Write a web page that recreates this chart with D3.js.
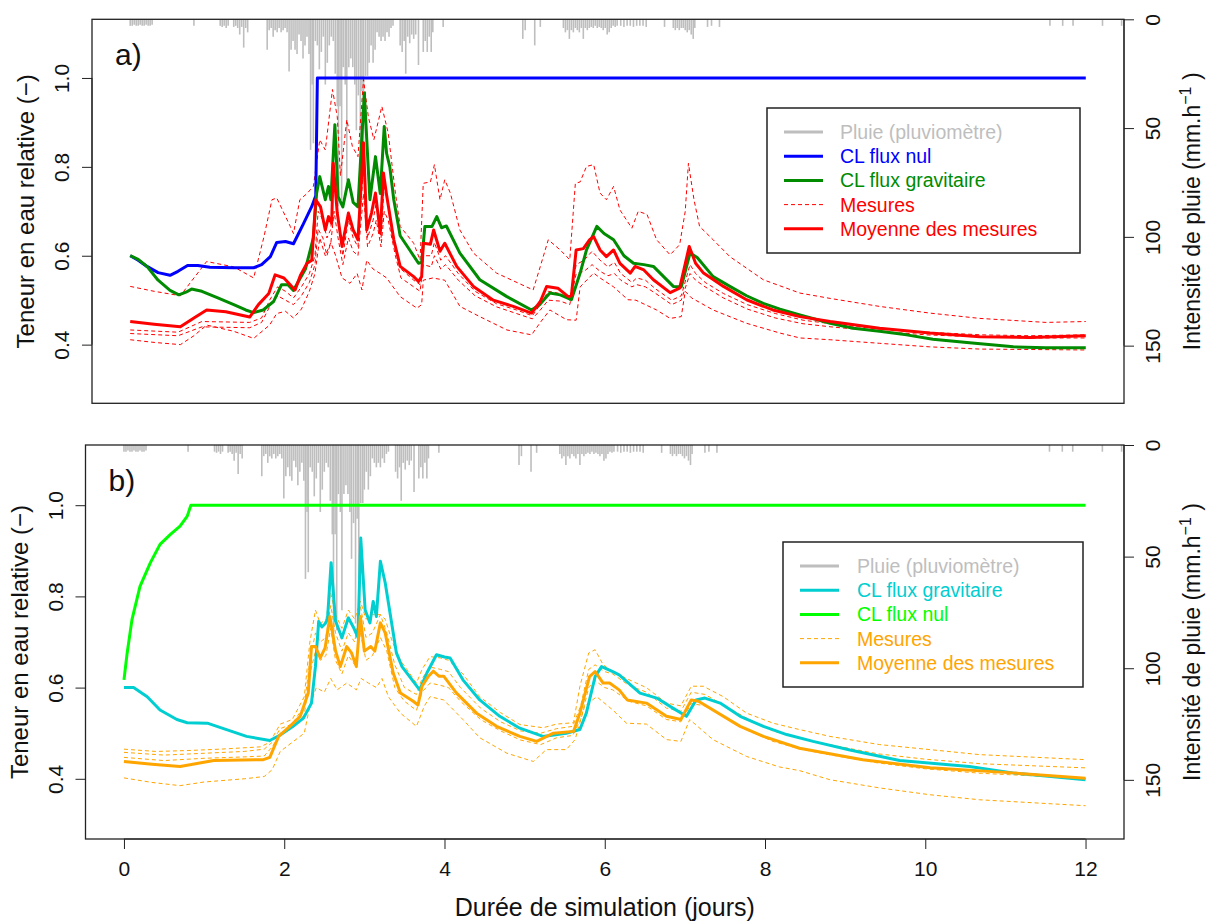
<!DOCTYPE html>
<html><head><meta charset="utf-8">
<script src="https://cdn.jsdelivr.net/npm/d3@7"></script>
<style>body{margin:0;background:#fff}svg{display:block}text{font-family:"Liberation Sans",Arial,Helvetica,sans-serif}</style>
</head><body><svg id="c" width="1206" height="921"></svg>
<script>
// ---------------- DATA ----------------
const xTicks = [0, 2, 4, 6, 8, 10, 12];
const yTicks = [0.4, 0.6, 0.8, 1.0];
const rainTicks = [0, 50, 100, 150];

// rain intensity [day, mm/h]
const rain = [
[0.00,3],[0.025,3],[0.05,2.5],[0.075,3],[0.10,3],[0.125,2.5],[0.15,3],[0.175,3],[0.20,2.5],[0.225,3],[0.25,3],[0.275,2.5],
[0.80,3],
[1.13,3],[1.155,3.5],[1.18,3],[1.205,4],[1.23,3],[1.30,3.5],[1.325,3],[1.35,4],[1.375,7],[1.40,3.5],[1.425,13],[1.45,4],[1.475,6],
[1.72,14],[1.745,5],[1.77,4],[1.795,8],[1.82,5],[1.845,6],[1.87,4],[1.895,6],[1.92,5],[1.945,4],[1.97,6],[1.995,24],[2.02,14],[2.045,10],[2.07,14],[2.095,16],[2.12,7],[2.145,10],[2.17,18],[2.195,12],[2.22,8],[2.245,16],[2.265,60],[2.285,30],[2.30,57],[2.325,10],[2.35,12],[2.375,23],[2.40,15],[2.425,8],[2.45,30],[2.475,20],[2.50,12],[2.525,8],[2.55,10],[2.575,25],[2.60,40],[2.615,86],[2.635,40],[2.655,83],[2.675,22],[2.70,30],[2.72,74],[2.745,22],[2.77,18],[2.795,22],[2.82,30],[2.84,51],[2.865,35],[2.89,80],[2.91,33],[2.93,60],[2.955,26],[2.98,26],[3.00,20],[3.025,12],[3.05,20],[3.075,14],[3.10,6],[3.125,8],[3.15,10],[3.175,8],[3.20,10],[3.225,6],[3.25,8],[3.275,4],[3.30,3],
[3.39,12],[3.415,15],[3.44,10],[3.46,25],[3.485,8],[3.51,11],[3.535,7],[3.56,9],[3.585,7],[3.62,21],[3.68,15],[3.705,10],[3.73,15],[3.755,8],[3.78,15],[3.80,6],[3.93,3.5],
[4.93,9],[4.96,5],[5.08,12],[5.15,3.5],
[5.44,4],[5.465,6],[5.49,5],[5.515,9],[5.54,5],[5.565,6],[5.59,4],[5.615,5],[5.64,6],[5.665,4],[5.69,9],[5.715,4],[5.74,5],[5.765,4],[5.79,3.5],[5.815,4],[5.84,3],[5.865,4],[5.89,3.5],[5.915,4],[5.94,5],[5.965,4],[5.99,7],[6.015,6],[6.04,4],[6.065,3],[6.09,3.5],[6.115,3],[6.16,3],[6.20,3.5],[6.24,3],[6.28,3],[6.32,3.5],[6.36,3],[6.40,3],[6.44,3],[6.48,3.5],
[6.71,3.5],
[6.82,4],[6.845,5],[6.87,4],[6.895,5],[6.92,4],[6.945,4],[6.97,5],[6.995,6],[7.02,5],[7.045,7],[7.07,9],[7.09,4],
[7.25,3.5],[7.30,3],[7.40,3.5],
[11.55,3],[11.71,3],[11.84,3],[12.21,3],[12.45,3]
];

// ---- panel a ----
const aFluxNul = [[0,0.600],[0.1,0.590],[0.21,0.576],[0.35,0.562],[0.5,0.556],[0.6,0.565],[0.72,0.578],[0.85,0.578],[1.0,0.574],[1.3,0.573],[1.55,0.573],[1.65,0.580],[1.76,0.598],[1.84,0.630],[1.95,0.632],[2.05,0.627],[2.10,0.645],[2.17,0.670],[2.28,0.711],[2.33,0.735],[2.35,1.0],[12,1.0]];
const aFluxGrav = [[0,0.600],[0.1,0.592],[0.21,0.576],[0.35,0.545],[0.5,0.522],[0.61,0.512],[0.7,0.518],[0.77,0.525],[0.9,0.520],[1.1,0.505],[1.3,0.490],[1.45,0.478],[1.55,0.472],[1.67,0.478],[1.8,0.497],[1.9,0.535],[1.98,0.535],[2.05,0.522],[2.12,0.545],[2.2,0.570],[2.3,0.640],[2.34,0.74],[2.38,0.778],[2.45,0.726],[2.49,0.756],[2.52,0.726],[2.57,0.895],[2.61,0.733],[2.67,0.71],[2.74,0.771],[2.80,0.72],[2.86,0.71],[2.94,0.966],[3.01,0.726],[3.08,0.823],[3.14,0.74],[3.19,0.891],[3.22,0.830],[3.26,0.80],[3.31,0.726],[3.39,0.645],[3.51,0.613],[3.62,0.583],[3.66,0.585],[3.70,0.666],[3.79,0.666],[3.85,0.688],[3.91,0.663],[3.97,0.667],[4.14,0.606],[4.39,0.546],[4.73,0.508],[5.04,0.478],[5.14,0.49],[5.27,0.516],[5.40,0.512],[5.54,0.501],[5.65,0.561],[5.73,0.613],[5.86,0.666],[5.95,0.65],[6.07,0.636],[6.20,0.60],[6.32,0.583],[6.45,0.580],[6.57,0.576],[6.82,0.531],[6.92,0.530],[7.03,0.606],[7.12,0.596],[7.32,0.553],[7.53,0.531],[7.74,0.51],[7.95,0.493],[8.16,0.480],[8.41,0.467],[8.79,0.448],[9.08,0.437],[9.41,0.430],[9.75,0.422],[10.08,0.412],[10.54,0.404],[11.09,0.395],[11.5,0.393],[12,0.393]];
const aMoyenne = [[0,0.452],[0.3,0.446],[0.63,0.440],[0.8,0.46],[0.96,0.478],[1.2,0.474],[1.5,0.462],[1.61,0.49],[1.74,0.515],[1.82,0.557],[1.93,0.55],[2.07,0.523],[2.14,0.557],[2.22,0.583],[2.28,0.59],[2.33,0.726],[2.39,0.71],[2.45,0.658],[2.49,0.688],[2.53,0.673],[2.55,0.808],[2.60,0.696],[2.66,0.621],[2.74,0.696],[2.80,0.658],[2.86,0.636],[2.93,0.854],[2.97,0.658],[3.03,0.696],[3.08,0.741],[3.14,0.651],[3.18,0.786],[3.22,0.736],[3.31,0.636],[3.39,0.576],[3.56,0.553],[3.62,0.542],[3.66,0.553],[3.68,0.628],[3.77,0.626],[3.81,0.658],[3.89,0.61],[3.95,0.628],[4.10,0.576],[4.31,0.531],[4.56,0.500],[4.81,0.486],[5.04,0.471],[5.15,0.497],[5.23,0.531],[5.37,0.527],[5.50,0.508],[5.54,0.51],[5.60,0.613],[5.69,0.616],[5.77,0.636],[5.82,0.643],[5.90,0.613],[5.98,0.598],[6.07,0.613],[6.15,0.583],[6.28,0.561],[6.34,0.576],[6.45,0.568],[6.57,0.546],[6.78,0.517],[6.90,0.527],[7.02,0.621],[7.10,0.583],[7.20,0.561],[7.45,0.531],[7.74,0.501],[8.07,0.478],[8.41,0.463],[8.79,0.452],[9.41,0.437],[10.04,0.426],[10.67,0.418],[11.3,0.416],[12,0.42]];
const aMesure1 = [[0,0.531],[0.3,0.52],[0.63,0.51],[0.80,0.55],[0.96,0.587],[1.3,0.575],[1.55,0.55],[1.68,0.643],[1.78,0.726],[1.84,0.73],[2.01,0.666],[2.05,0.65],[2.13,0.726],[2.22,0.74],[2.30,0.756],[2.38,0.861],[2.45,0.838],[2.54,0.974],[2.60,0.913],[2.64,0.78],[2.72,0.906],[2.79,0.846],[2.86,0.823],[2.93,0.997],[2.99,0.913],[3.06,0.861],[3.16,0.936],[3.24,0.876],[3.33,0.741],[3.39,0.666],[3.56,0.628],[3.64,0.59],[3.68,0.763],[3.77,0.766],[3.82,0.805],[3.89,0.726],[3.95,0.771],[4.02,0.741],[4.14,0.658],[4.31,0.606],[4.60,0.561],[5.06,0.523],[5.15,0.576],[5.25,0.636],[5.40,0.613],[5.52,0.591],[5.59,0.763],[5.65,0.766],[5.73,0.801],[5.82,0.805],[5.90,0.741],[5.98,0.726],[6.07,0.756],[6.15,0.703],[6.30,0.662],[6.38,0.70],[6.49,0.693],[6.61,0.636],[6.78,0.602],[6.90,0.625],[6.97,0.70],[7.01,0.808],[7.08,0.726],[7.15,0.666],[7.32,0.636],[7.53,0.598],[7.95,0.546],[8.41,0.516],[8.79,0.504],[9.41,0.486],[10.04,0.471],[10.67,0.459],[11.5,0.450],[12,0.452]];
const aMesure2 = [[0,0.433],[0.6,0.428],[0.9,0.452],[1.5,0.45],[1.65,0.46],[1.75,0.50],[1.85,0.53],[1.95,0.52],[2.05,0.505],[2.15,0.53],[2.25,0.56],[2.32,0.60],[2.36,0.70],[2.42,0.68],[2.47,0.64],[2.52,0.66],[2.56,0.78],[2.61,0.68],[2.67,0.60],[2.74,0.68],[2.80,0.64],[2.86,0.62],[2.93,0.80],[2.98,0.64],[3.05,0.68],[3.09,0.72],[3.15,0.64],[3.19,0.76],[3.24,0.72],[3.33,0.62],[3.40,0.57],[3.56,0.545],[3.64,0.535],[3.68,0.60],[3.78,0.60],[3.82,0.63],[3.90,0.59],[3.96,0.60],[4.12,0.56],[4.33,0.52],[4.6,0.492],[4.85,0.478],[5.05,0.465],[5.15,0.49],[5.25,0.52],[5.4,0.515],[5.52,0.50],[5.6,0.58],[5.7,0.59],[5.8,0.61],[5.9,0.59],[6.0,0.575],[6.08,0.585],[6.16,0.56],[6.3,0.54],[6.36,0.55],[6.47,0.545],[6.6,0.525],[6.8,0.50],[6.92,0.51],[7.03,0.58],[7.1,0.56],[7.22,0.54],[7.45,0.515],[7.75,0.49],[8.1,0.47],[8.45,0.455],[8.8,0.447],[9.4,0.435],[10.0,0.428],[10.7,0.422],[11.3,0.42],[12,0.422]];
const aMesure3 = [[0,0.425],[0.6,0.42],[0.9,0.44],[1.5,0.438],[1.65,0.45],[1.75,0.485],[1.85,0.51],[1.95,0.50],[2.05,0.49],[2.15,0.51],[2.25,0.54],[2.32,0.58],[2.36,0.66],[2.42,0.64],[2.47,0.60],[2.52,0.63],[2.56,0.70],[2.61,0.64],[2.67,0.58],[2.74,0.64],[2.80,0.61],[2.86,0.60],[2.93,0.74],[2.98,0.62],[3.05,0.65],[3.09,0.68],[3.15,0.62],[3.19,0.70],[3.24,0.68],[3.33,0.60],[3.40,0.55],[3.56,0.53],[3.64,0.52],[3.68,0.58],[3.78,0.575],[3.82,0.60],[3.90,0.57],[3.96,0.58],[4.12,0.545],[4.33,0.51],[4.6,0.485],[4.85,0.47],[5.05,0.458],[5.15,0.478],[5.25,0.50],[5.4,0.498],[5.52,0.49],[5.6,0.56],[5.7,0.565],[5.8,0.58],[5.9,0.565],[6.0,0.555],[6.08,0.56],[6.16,0.545],[6.3,0.53],[6.36,0.535],[6.47,0.53],[6.6,0.515],[6.8,0.49],[6.92,0.50],[7.03,0.56],[7.1,0.545],[7.22,0.53],[7.45,0.505],[7.75,0.48],[8.1,0.46],[8.45,0.447],[8.8,0.44],[9.4,0.43],[10.0,0.422],[10.7,0.417],[11.3,0.415],[12,0.415]];
const aMesure4 = [[0,0.411],[0.3,0.405],[0.63,0.40],[0.8,0.42],[0.96,0.444],[1.3,0.43],[1.55,0.414],[1.75,0.444],[1.84,0.47],[1.95,0.475],[2.05,0.46],[2.15,0.48],[2.25,0.52],[2.32,0.56],[2.38,0.64],[2.45,0.60],[2.52,0.63],[2.58,0.60],[2.66,0.55],[2.76,0.538],[2.85,0.56],[2.91,0.523],[2.97,0.59],[3.05,0.57],[3.14,0.56],[3.22,0.55],[3.39,0.508],[3.60,0.482],[3.66,0.49],[3.68,0.545],[3.80,0.55],[3.95,0.545],[4.14,0.486],[4.39,0.463],[4.73,0.433],[5.04,0.422],[5.15,0.45],[5.27,0.478],[5.48,0.456],[5.60,0.455],[5.65,0.53],[5.82,0.561],[5.90,0.55],[6.07,0.53],[6.25,0.501],[6.35,0.50],[6.61,0.478],[6.78,0.459],[6.92,0.463],[6.97,0.52],[7.05,0.505],[7.32,0.478],[7.74,0.448],[8.16,0.426],[8.41,0.415],[8.79,0.411],[9.41,0.403],[10.04,0.395],[10.67,0.39],[12,0.388]];

// ---- panel b ----
const bFluxGrav = [[0,0.6],[0.12,0.6],[0.29,0.58],[0.45,0.551],[0.66,0.53],[0.79,0.523],[1.04,0.522],[1.28,0.508],[1.53,0.493],[1.82,0.484],[1.95,0.496],[2.11,0.515],[2.24,0.533],[2.34,0.566],[2.39,0.647],[2.43,0.745],[2.47,0.733],[2.51,0.74],[2.54,0.75],[2.585,0.874],[2.64,0.746],[2.72,0.709],[2.80,0.753],[2.87,0.73],[2.92,0.71],[2.955,0.928],[3.01,0.77],[3.07,0.742],[3.11,0.789],[3.15,0.756],[3.20,0.877],[3.26,0.83],[3.32,0.764],[3.40,0.676],[3.47,0.646],[3.69,0.595],[3.78,0.632],[3.90,0.672],[4.0,0.667],[4.07,0.665],[4.23,0.617],[4.44,0.573],[4.69,0.537],[4.94,0.511],[5.23,0.493],[5.52,0.50],[5.69,0.508],[5.77,0.544],[5.88,0.624],[5.96,0.646],[6.1,0.635],[6.18,0.628],[6.44,0.588],[6.65,0.577],[6.85,0.555],[7.02,0.537],[7.14,0.573],[7.25,0.577],[7.44,0.566],[7.69,0.537],[7.98,0.515],[8.27,0.497],[8.6,0.482],[9.06,0.463],[9.68,0.44],[10.55,0.427],[11.09,0.413],[12,0.398]];
const bFluxNul = [[0,0.617],[0.04,0.676],[0.10,0.749],[0.2,0.822],[0.33,0.874],[0.45,0.914],[0.58,0.936],[0.70,0.954],[0.79,0.976],[0.835,1.0],[12,1.0]];
const bMoyenne = [[0,0.438],[0.35,0.432],[0.7,0.427],[1.12,0.44],[1.74,0.442],[1.82,0.447],[1.93,0.493],[2.07,0.515],[2.2,0.537],[2.3,0.588],[2.34,0.69],[2.39,0.69],[2.45,0.665],[2.51,0.687],[2.57,0.756],[2.64,0.681],[2.70,0.646],[2.78,0.69],[2.84,0.676],[2.90,0.646],[2.95,0.756],[3.0,0.68],[3.08,0.69],[3.13,0.68],[3.20,0.742],[3.26,0.72],[3.36,0.632],[3.45,0.588],[3.61,0.57],[3.67,0.562],[3.72,0.603],[3.80,0.625],[3.86,0.636],[3.93,0.625],[3.99,0.625],[4.15,0.588],[4.40,0.544],[4.65,0.515],[4.94,0.493],[5.15,0.482],[5.36,0.50],[5.61,0.504],[5.69,0.544],[5.81,0.624],[5.88,0.635],[5.98,0.61],[6.06,0.61],[6.18,0.595],[6.28,0.573],[6.52,0.566],[6.77,0.537],[6.95,0.53],[7.08,0.573],[7.17,0.57],[7.69,0.515],[7.98,0.493],[8.43,0.467],[9.22,0.442],[10.06,0.424],[11.09,0.413],[12,0.401]];
const bMesure1 = [[0,0.465],[0.4,0.46],[0.8,0.462],[1.2,0.465],[1.7,0.47],[1.82,0.48],[1.95,0.52],[2.1,0.53],[2.25,0.58],[2.32,0.70],[2.39,0.77],[2.45,0.74],[2.52,0.75],[2.58,0.808],[2.64,0.76],[2.72,0.73],[2.8,0.77],[2.88,0.75],[2.95,0.79],[3.02,0.75],[3.1,0.76],[3.2,0.76],[3.26,0.75],[3.35,0.70],[3.45,0.66],[3.65,0.61],[3.72,0.64],[3.82,0.668],[3.95,0.665],[4.05,0.66],[4.23,0.63],[4.44,0.58],[4.7,0.545],[4.94,0.519],[5.23,0.512],[5.4,0.52],[5.61,0.523],[5.69,0.603],[5.80,0.676],[5.88,0.683],[5.98,0.65],[6.1,0.635],[6.33,0.615],[6.52,0.60],[6.77,0.566],[6.95,0.56],[7.08,0.603],[7.23,0.603],[7.48,0.58],[7.77,0.544],[8.1,0.522],[8.43,0.508],[8.81,0.493],[9.43,0.475],[10.06,0.464],[10.68,0.453],[12,0.442]];
const bMesure2 = [[0,0.458],[0.5,0.452],[1.0,0.456],[1.5,0.46],[1.75,0.465],[1.85,0.48],[1.95,0.51],[2.1,0.52],[2.25,0.56],[2.32,0.66],[2.39,0.72],[2.45,0.70],[2.52,0.71],[2.58,0.78],[2.64,0.72],[2.72,0.68],[2.8,0.72],[2.88,0.70],[2.95,0.78],[3.02,0.71],[3.1,0.72],[3.2,0.76],[3.28,0.72],[3.38,0.65],[3.5,0.60],[3.65,0.585],[3.72,0.62],[3.82,0.645],[3.95,0.64],[4.05,0.635],[4.2,0.60],[4.45,0.555],[4.7,0.525],[4.95,0.505],[5.2,0.50],[5.4,0.51],[5.6,0.515],[5.7,0.56],[5.8,0.64],[5.88,0.65],[6.0,0.635],[6.1,0.63],[6.3,0.605],[6.52,0.59],[6.77,0.555],[6.95,0.548],[7.08,0.59],[7.25,0.585],[7.5,0.56],[7.8,0.53],[8.1,0.505],[8.45,0.488],[8.8,0.475],[9.4,0.455],[10.0,0.443],[10.7,0.433],[12,0.424]];
const bMesure3 = [[0,0.447],[0.5,0.44],[1.0,0.445],[1.5,0.448],[1.75,0.45],[1.85,0.47],[1.95,0.50],[2.1,0.51],[2.25,0.54],[2.32,0.63],[2.39,0.68],[2.45,0.66],[2.52,0.67],[2.58,0.73],[2.64,0.66],[2.72,0.63],[2.8,0.67],[2.88,0.65],[2.95,0.72],[3.02,0.66],[3.1,0.67],[3.2,0.71],[3.28,0.68],[3.38,0.60],[3.5,0.57],[3.65,0.55],[3.72,0.59],[3.82,0.61],[3.95,0.605],[4.05,0.60],[4.2,0.57],[4.45,0.53],[4.7,0.505],[4.95,0.485],[5.2,0.475],[5.4,0.49],[5.6,0.495],[5.7,0.53],[5.8,0.60],[5.88,0.615],[6.0,0.60],[6.1,0.595],[6.3,0.57],[6.52,0.56],[6.77,0.53],[6.95,0.525],[7.08,0.565],[7.25,0.56],[7.5,0.535],[7.8,0.505],[8.1,0.482],[8.45,0.465],[8.8,0.453],[9.4,0.435],[10.0,0.422],[10.7,0.412],[12,0.401]];
const bMesure4 = [[0,0.402],[0.35,0.392],[0.7,0.385],[1.0,0.393],[1.5,0.40],[1.75,0.405],[1.85,0.42],[1.95,0.46],[2.1,0.48],[2.25,0.50],[2.32,0.56],[2.4,0.60],[2.5,0.59],[2.58,0.62],[2.66,0.595],[2.78,0.61],[2.9,0.595],[2.96,0.62],[3.05,0.61],[3.15,0.60],[3.22,0.62],[3.30,0.58],[3.45,0.544],[3.65,0.515],[3.75,0.56],[3.82,0.58],[3.99,0.573],[4.23,0.53],[4.44,0.49],[4.78,0.456],[5.11,0.438],[5.27,0.464],[5.52,0.464],[5.63,0.486],[5.75,0.56],[5.90,0.58],[6.1,0.551],[6.27,0.522],[6.52,0.52],[6.77,0.486],[6.95,0.482],[7.06,0.53],[7.35,0.486],[7.77,0.449],[8.18,0.426],[8.43,0.418],[8.81,0.398],[9.43,0.38],[10.06,0.365],[10.68,0.354],[12,0.341]];

const legendA = ["Pluie (pluviomètre)", "CL flux nul", "CL flux gravitaire", "Mesures", "Moyenne des mesures"];
const legendB = ["Pluie (pluviomètre)", "CL flux gravitaire", "CL flux nul", "Mesures", "Moyenne des mesures"];

// ---------------- DRAW ----------------
const svg = d3.select("#c");
const FONT = '"Liberation Sans",Arial,Helvetica,sans-serif';
const GREY = "#BEBEBE";

function panel(cfg) {
  const x = d3.scaleLinear().domain([-0.48, 12.48]).range([cfg.left, cfg.right]);
  const y = d3.scaleLinear().domain([0.268, 1.132]).range([cfg.bottom, cfg.top]);
  const yr = d3.scaleLinear().domain([0, 176.5]).range([cfg.top, cfg.bottom]);
  const g = svg.append("g");

  g.append("g").selectAll("line").data(rain).join("line")
    .attr("x1", d => x(d[0])).attr("x2", d => x(d[0]))
    .attr("y1", yr(0)).attr("y2", d => yr(d[1]))
    .attr("stroke", GREY).attr("stroke-width", 1.6);

  const line = d3.line().x(d => x(d[0])).y(d => y(d[1]));
  cfg.dashed.forEach(s => g.append("path").attr("d", line(s)).attr("fill", "none")
    .attr("stroke", cfg.measColor).attr("stroke-width", 1).attr("stroke-dasharray", "4,3"));
  cfg.solid.forEach(s => g.append("path").attr("d", line(s.data)).attr("fill", "none")
    .attr("stroke", s.color).attr("stroke-width", 3).attr("stroke-linejoin", "round"));

  g.append("rect").attr("x", cfg.left).attr("y", cfg.top)
    .attr("width", cfg.right - cfg.left).attr("height", cfg.bottom - cfg.top)
    .attr("fill", "none").attr("stroke", "#222").attr("stroke-width", 1.3);

  const la = g.append("g").attr("transform", `translate(${cfg.left},0)`)
    .call(d3.axisLeft(y).tickValues(yTicks).tickFormat(d3.format(".1f")).tickSize(10).tickPadding(0));
  la.select(".domain").attr("d", `M-0,${y(0.4)}V${y(1.0)}`).attr("stroke", "#222");
  la.selectAll(".tick line").attr("stroke", "#222");
  la.selectAll(".tick text").attr("x", null).attr("dy", null)
    .attr("text-anchor", "middle").attr("font-size", 21).attr("font-family", FONT).attr("fill", "#111")
    .attr("transform", `translate(${cfg.lblX - cfg.left},0) rotate(-90)`).attr("dominant-baseline", "central");

  const ra = g.append("g").attr("transform", `translate(${cfg.right},0)`)
    .call(d3.axisRight(yr).tickValues(rainTicks).tickFormat(d3.format("d")).tickSize(10).tickPadding(0));
  ra.select(".domain").attr("d", `M0,${yr(0)}V${yr(150)}`).attr("stroke", "#222");
  ra.selectAll(".tick line").attr("stroke", "#222");
  ra.selectAll(".tick text").attr("x", null).attr("dy", null)
    .attr("text-anchor", "middle").attr("font-size", 21).attr("font-family", FONT).attr("fill", "#111")
    .attr("transform", `translate(${1152 - cfg.right},0) rotate(-90)`).attr("dominant-baseline", "central");

  const cy = (cfg.top + cfg.bottom) / 2;
  g.append("text").attr("transform", `translate(${cfg.titleX},${cy}) rotate(-90)`)
    .attr("text-anchor", "middle").attr("dominant-baseline", "central")
    .attr("font-size", 24).attr("fill", "#111").text("Teneur en eau relative (−)");
  const rt = g.append("text").attr("transform", `translate(1200,${cy}) rotate(-90)`)
    .attr("text-anchor", "middle")
    .attr("font-size", 23).attr("fill", "#111");
  rt.append("tspan").text("Intensité de pluie (mm.h");
  rt.append("tspan").attr("dy", -9).attr("font-size", 16).text("−1");
  rt.append("tspan").attr("dy", 9).text(" )");

  g.append("text").attr("x", cfg.left + 23).attr("y", cfg.top + 46)
    .attr("font-size", 30).attr("fill", "#111").text(cfg.label);

  const L = cfg.legend;
  g.append("rect").attr("x", L.x).attr("y", L.y).attr("width", L.w).attr("height", L.h)
    .attr("fill", "#fff").attr("stroke", "#222").attr("stroke-width", 1.5);
  cfg.legendItems.forEach((it, i) => {
    const ry = L.y + 24 + i * 24.2;
    g.append("line").attr("x1", L.x + L.lx1).attr("x2", L.x + L.lx2).attr("y1", ry).attr("y2", ry)
      .attr("stroke", it.color).attr("stroke-width", it.dash ? 1 : 3)
      .attr("stroke-dasharray", it.dash ? "4,3" : null);
    g.append("text").attr("x", L.x + L.tx).attr("y", ry).attr("dominant-baseline", "central")
      .attr("font-size", 19.5).attr("fill", it.color).text(it.label);
  });
  return x;
}

panel({
  left: 92, right: 1124, top: 19.3, bottom: 403.3, lblX: 61, titleX: 25, label: "a)",
  measColor: "#FF0000",
  dashed: [aMesure1, aMesure2, aMesure3, aMesure4],
  solid: [{data: aFluxNul, color: "#0000FF"}, {data: aFluxGrav, color: "#008B00"}, {data: aMoyenne, color: "#FF0000"}],
  legend: {x: 767, y: 108, w: 313, h: 145, lx1: 17, lx2: 56, tx: 73},
  legendItems: [
    {label: legendA[0], color: GREY}, {label: legendA[1], color: "#0000FF"},
    {label: legendA[2], color: "#008B00"}, {label: legendA[3], color: "#FF0000", dash: true},
    {label: legendA[4], color: "#FF0000"}]
});

const xb = panel({
  left: 85.5, right: 1124, top: 445, bottom: 839, lblX: 55.5, titleX: 19.5, label: "b)",
  measColor: "#FFA500",
  dashed: [bMesure1, bMesure2, bMesure3, bMesure4],
  solid: [{data: bFluxNul, color: "#00FF00"}, {data: bFluxGrav, color: "#00CED1"}, {data: bMoyenne, color: "#FFA500"}],
  legend: {x: 783, y: 542, w: 300, h: 145, lx1: 17, lx2: 56, tx: 74},
  legendItems: [
    {label: legendB[0], color: GREY}, {label: legendB[1], color: "#00CED1"},
    {label: legendB[2], color: "#00FF00"}, {label: legendB[3], color: "#FFA500", dash: true},
    {label: legendB[4], color: "#FFA500"}]
});

const xa = svg.append("g").attr("transform", "translate(0,839)")
  .call(d3.axisBottom(xb).tickValues(xTicks).tickSize(10).tickPadding(12));
xa.select(".domain").attr("d", `M${xb(0)},0H${xb(12)}`).attr("stroke", "#222");
xa.selectAll(".tick line").attr("stroke", "#222");
xa.selectAll(".tick text").attr("font-size", 21).attr("font-family", FONT).attr("fill", "#111");
svg.append("text").attr("x", (85.5 + 1124) / 2).attr("y", 916).attr("text-anchor", "middle")
  .attr("font-size", 25).attr("fill", "#111").text("Durée de simulation (jours)");
</script></body></html>
